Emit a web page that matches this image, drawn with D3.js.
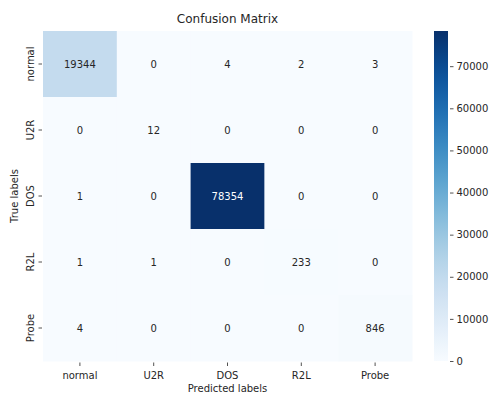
<!DOCTYPE html>
<html>
<head>
<meta charset="utf-8">
<script src="https://cdn.jsdelivr.net/npm/d3@7"></script>
<style>
  html, body { margin: 0; padding: 0; background: #fff; }
  text { font-family: "DejaVu Sans", sans-serif; fill: #262626; }
</style>
</head>
<body>
<svg id="chart" width="497" height="396"></svg>
<script>
// Class names (rows = true, columns = predicted)
const classes = ["normal", "U2R", "DOS", "R2L", "Probe"];
// Confusion counts, one array per true class
const rowNormal = [19344, 0, 4, 2, 3];
const rowU2R = [0, 12, 0, 0, 0];
const rowDOS = [1, 0, 78354, 0, 0];
const rowR2L = [1, 1, 0, 233, 0];
const rowProbe = [4, 0, 0, 0, 846];
const colorbarTicks = [0, 10000, 20000, 30000, 40000, 50000, 60000, 70000];

const matrix = [rowNormal, rowU2R, rowDOS, rowR2L, rowProbe];
const cells = [];
matrix.forEach((row, i) => row.forEach((v, j) => cells.push({ r: classes[i], c: classes[j], v })));

const svg = d3.select("#chart");
const plotLeft = 43, plotRight = 412, plotTop = 31, plotBottom = 361;

const x = d3.scaleBand().domain(classes).range([plotLeft, plotRight]);
const y = d3.scaleBand().domain(classes).range([plotTop, plotBottom]);
const vmax = d3.max(cells, d => d.v);
const color = d3.scaleSequential(d3.interpolateBlues).domain([0, vmax]);

// Heatmap cells
svg.append("g").selectAll("rect").data(cells).join("rect")
  .attr("x", d => x(d.c))
  .attr("y", d => y(d.r))
  .attr("width", x.bandwidth() + 0.5)
  .attr("height", y.bandwidth() + 0.5)
  .attr("fill", d => color(d.v));

// Cell annotations
svg.append("g").selectAll("text").data(cells).join("text")
  .attr("x", d => x(d.c) + x.bandwidth() / 2)
  .attr("y", d => y(d.r) + y.bandwidth() / 2)
  .attr("text-anchor", "middle")
  .attr("dominant-baseline", "central")
  .attr("font-size", 10)
  .style("fill", d => d.v / vmax > 0.5 ? "#ffffff" : "#262626")
  .text(d => d.v);

// Bottom axis
const xAxis = svg.append("g")
  .attr("transform", `translate(0,${plotBottom + 1.5})`)
  .call(d3.axisBottom(x).tickSize(3.5).tickPadding(5.5));
xAxis.select(".domain").remove();
xAxis.selectAll(".tick line").attr("stroke", "#262626").attr("stroke-width", 0.8);
xAxis.selectAll(".tick text").attr("font-size", 10).style("font-family", "DejaVu Sans").style("fill", "#262626");

// Left axis with rotated labels
const yAxis = svg.append("g")
  .attr("transform", `translate(${plotLeft - 1},0)`)
  .call(d3.axisLeft(y).tickSize(3.5).tickPadding(4));
yAxis.select(".domain").remove();
yAxis.selectAll(".tick line").attr("stroke", "#262626").attr("stroke-width", 0.8);
yAxis.selectAll(".tick text")
  .attr("font-size", 10)
  .style("font-family", "DejaVu Sans").style("fill", "#262626")
  .attr("text-anchor", "middle")
  .attr("dy", 0)
  .attr("x", 0)
  .attr("transform", "translate(-8,0) rotate(-90)");

// Title and axis labels
svg.append("text")
  .attr("x", (plotLeft + plotRight) / 2).attr("y", 23)
  .attr("text-anchor", "middle").attr("font-size", 12)
  .text("Confusion Matrix");
svg.append("text")
  .attr("x", (plotLeft + plotRight) / 2).attr("y", 392)
  .attr("text-anchor", "middle").attr("font-size", 10)
  .text("Predicted labels");
svg.append("text")
  .attr("transform", `translate(18,${(plotTop + plotBottom) / 2}) rotate(-90)`)
  .attr("text-anchor", "middle").attr("font-size", 10)
  .text("True labels");

// Colorbar
const cbX = 434, cbW = 14;
const defs = svg.append("defs");
const grad = defs.append("linearGradient").attr("id", "cbGrad")
  .attr("x1", "0").attr("y1", "1").attr("x2", "0").attr("y2", "0");
d3.range(0, 1.0001, 0.05).forEach(t => {
  grad.append("stop").attr("offset", t).attr("stop-color", d3.interpolateBlues(t));
});
svg.append("rect")
  .attr("x", cbX).attr("y", plotTop)
  .attr("width", cbW).attr("height", plotBottom - plotTop)
  .attr("fill", "url(#cbGrad)");
const cbScale = d3.scaleLinear().domain([0, vmax]).range([plotBottom, plotTop]);
const cbAxis = svg.append("g")
  .attr("transform", `translate(${cbX + cbW + 2},0)`)
  .call(d3.axisRight(cbScale).tickValues(colorbarTicks).tickFormat(d3.format("d")).tickSize(3.5).tickPadding(3));
cbAxis.select(".domain").remove();
cbAxis.selectAll(".tick line").attr("stroke", "#262626").attr("stroke-width", 0.8);
cbAxis.selectAll(".tick text").attr("font-size", 10).style("font-family", "DejaVu Sans").style("fill", "#262626");
</script>
</body>
</html>
